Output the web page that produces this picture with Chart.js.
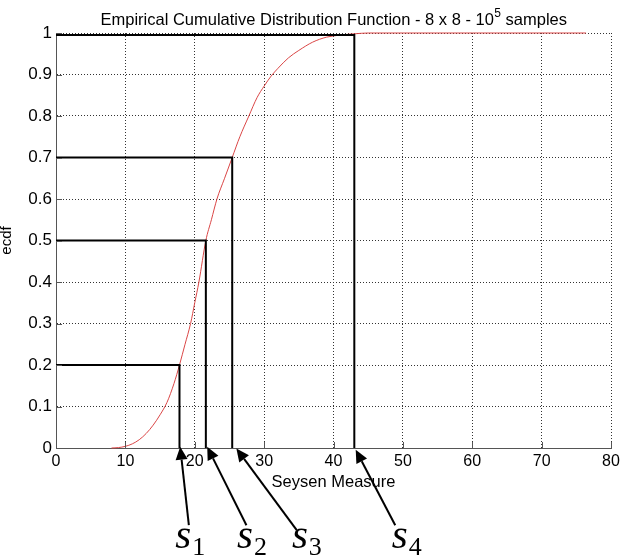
<!DOCTYPE html>
<html>
<head>
<meta charset="utf-8">
<script src="https://cdn.jsdelivr.net/npm/chart.js@4/dist/chart.umd.min.js"></script>
<style>
  html, body { margin: 0; padding: 0; background: #fff; }
  #wrap { width: 627px; height: 560px; position: relative; }
</style>
</head>
<body>
<div id="wrap"><canvas id="c"></canvas></div>
<script>
// ecdf curve
const cdfX = [8, 9, 10, 11, 12, 13, 14, 15, 16, 17, 17.8, 18.6, 19.4, 20, 20.6, 21.6, 22.4, 23.2, 24.3, 25.4, 26.5, 27.8, 29, 30, 31, 32, 33.5, 35, 37, 39, 41, 43, 45, 50, 60, 76.4];
const cdfY = [0, 0.001, 0.004, 0.01, 0.02, 0.035, 0.055, 0.08, 0.11, 0.155, 0.2, 0.25, 0.3, 0.35, 0.4, 0.5, 0.55, 0.6, 0.65, 0.7, 0.75, 0.8, 0.845, 0.872, 0.896, 0.915, 0.94, 0.958, 0.978, 0.99, 0.995, 0.998, 1, 1, 1, 1];

// quantile markers s1..s4
const sNames = ['1', '2', '3', '4'];
const sValues = [17.8, 21.6, 25.4, 43.0];
const sProbs = [0.2, 0.5, 0.7, 0.995];

// arrows below the axis (data units)
const arrowTipX = [17.9, 21.8, 26.0, 43.2];
const arrowTipY = [0.003, 0.003, -0.001, -0.004];
const arrowTailX = [19.15, 27.45, 34.7, 48.9];
const arrowTailY = [-0.186, -0.186, -0.198, -0.186];
const labelX = [17.2, 26.1, 34.0, 48.4];
const labelY = -0.24;

const xTicks = [0, 10, 20, 30, 40, 50, 60, 70, 80];
const yTickLabels = ['0', '0.1', '0.2', '0.3', '0.4', '0.5', '0.6', '0.7', '0.8', '0.9', '1'];

const FONT = '"Liberation Sans", Arial, sans-serif';

let datasets = [{
  data: cdfX.map((x, i) => ({ x: x, y: cdfY[i] })),
  borderColor: 'rgb(218, 70, 70)',
  borderWidth: 1,
  pointRadius: 0,
  cubicInterpolationMode: 'monotone',
  clip: false,
  order: 2
}];
sValues.forEach((s, i) => {
  datasets.push({
    data: [{ x: 0, y: sProbs[i] }, { x: s, y: sProbs[i] }, { x: s, y: 0 }],
    borderColor: '#000',
    borderWidth: 2,
    pointRadius: 0,
    order: 1
  });
});

const titlePlugin = {
  id: 'titleSup',
  afterDraw(chart) {
    const ctx = chart.ctx;
    const a = chart.chartArea;
    const main = 'Empirical Cumulative Distribution Function - 8 x 8 - 10';
    const sup = '5';
    const tail = ' samples';
    ctx.save();
    ctx.fillStyle = '#000';
    ctx.textBaseline = 'alphabetic';
    ctx.font = '16.5px ' + FONT;
    const w1 = ctx.measureText(main).width;
    const w3 = ctx.measureText(tail).width;
    ctx.font = '12px ' + FONT;
    const w2 = ctx.measureText(sup).width;
    let x = (a.left + a.right) / 2 - (w1 + w2 + w3) / 2;
    const y = 25;
    ctx.textAlign = 'left';
    ctx.font = '16.5px ' + FONT;
    ctx.fillText(main, x, y);
    ctx.font = '12px ' + FONT;
    ctx.fillText(sup, x + w1 + 0.5, y - 8);
    ctx.font = '16.5px ' + FONT;
    ctx.fillText(tail, x + w1 + w2 + 0.5, y);
    ctx.restore();
  }
};

// small inward tick marks like the original axes
const tickPlugin = {
  id: 'inTicks',
  afterDatasetsDraw(chart) {
    const ctx = chart.ctx;
    const a = chart.chartArea;
    const xs = chart.scales.x;
    const ys = chart.scales.y;
    ctx.save();
    ctx.strokeStyle = '#555';
    ctx.lineWidth = 1;
    ctx.beginPath();
    xTicks.forEach(v => {
      const px = Math.round(xs.getPixelForValue(v)) + 0.5;
      ctx.moveTo(px, a.bottom);
      ctx.lineTo(px, a.bottom - 6);
    });
    ys.ticks.forEach(t => {
      const py = Math.round(ys.getPixelForValue(t.value)) + 0.5;
      ctx.moveTo(a.left, py);
      ctx.lineTo(a.left + 6, py);
    });
    ctx.stroke();
    ctx.restore();
  }
};

const arrowPlugin = {
  id: 'arrows',
  afterDraw(chart) {
    const ctx = chart.ctx;
    const xs = chart.scales.x;
    const ys = chart.scales.y;
    ctx.save();
    ctx.strokeStyle = '#000';
    ctx.fillStyle = '#000';
    ctx.lineWidth = 2;
    sNames.forEach((n, i) => {
      const tx = xs.getPixelForValue(arrowTipX[i]);
      const ty = ys.getPixelForValue(arrowTipY[i]);
      const bx = xs.getPixelForValue(arrowTailX[i]);
      const by = ys.getPixelForValue(arrowTailY[i]);
      const ang = Math.atan2(ty - by, tx - bx);
      const len = 13, half = 6;
      const hx = tx - len * Math.cos(ang);
      const hy = ty - len * Math.sin(ang);
      ctx.beginPath();
      ctx.moveTo(bx, by);
      ctx.lineTo(hx, hy);
      ctx.stroke();
      ctx.beginPath();
      ctx.moveTo(tx, ty);
      ctx.lineTo(hx + half * Math.sin(ang), hy - half * Math.cos(ang));
      ctx.lineTo(hx - half * Math.sin(ang), hy + half * Math.cos(ang));
      ctx.closePath();
      ctx.fill();

      const lx = xs.getPixelForValue(labelX[i]);
      const ly = ys.getPixelForValue(labelY);
      ctx.textAlign = 'left';
      ctx.textBaseline = 'alphabetic';
      ctx.font = 'italic 41px "Liberation Serif", "DejaVu Serif", serif';
      ctx.fillText('s', lx, ly);
      const ws = ctx.measureText('s').width;
      ctx.font = '26px "Liberation Serif", "DejaVu Serif", serif';
      ctx.fillText(n, lx + ws + 1, ly + 7);
    });
    ctx.restore();
  }
};

new Chart(document.getElementById('c'), {
  type: 'line',
  data: { datasets: datasets },
  plugins: [titlePlugin, tickPlugin, arrowPlugin],
  options: {
    responsive: true,
    maintainAspectRatio: false,
    animation: false,
    layout: { padding: { top: 33, right: 16, left: 0, bottom: 0 } },
    plugins: { legend: { display: false }, tooltip: { enabled: false } },
    scales: {
      x: {
        type: 'linear',
        min: 0,
        max: 80,
        afterFit(scale) { scale.height = 112; },
        afterBuildTicks(scale) { scale.ticks = xTicks.map(v => ({ value: v })); },
        ticks: { color: '#000', font: { family: FONT, size: 16 }, padding: 4, maxRotation: 0 },
        grid: { color: '#333', lineWidth: 1, drawTicks: false },
        border: { color: '#555', width: 1, dash: [1, 2] },
        title: {
          display: true,
          text: 'Seysen Measure',
          color: '#000',
          font: { family: FONT, size: 16.5 },
          padding: { top: 0, bottom: 68 }
        }
      },
      y: {
        type: 'linear',
        min: 0,
        max: 1,
        afterFit(scale) { scale.width = 56; },
        ticks: {
          stepSize: 0.1,
          color: '#000',
          font: { family: FONT, size: 17 },
          padding: 4,
          callback: (v, i) => yTickLabels[i]
        },
        grid: { color: '#333', lineWidth: 1, drawTicks: false },
        border: { color: '#555', width: 1, dash: [1, 2] },
        title: {
          display: true,
          text: 'ecdf',
          color: '#000',
          font: { family: FONT, size: 15 },
          padding: { top: -2, bottom: 0 }
        }
      }
    }
  }
});
</script>
</body>
</html>
